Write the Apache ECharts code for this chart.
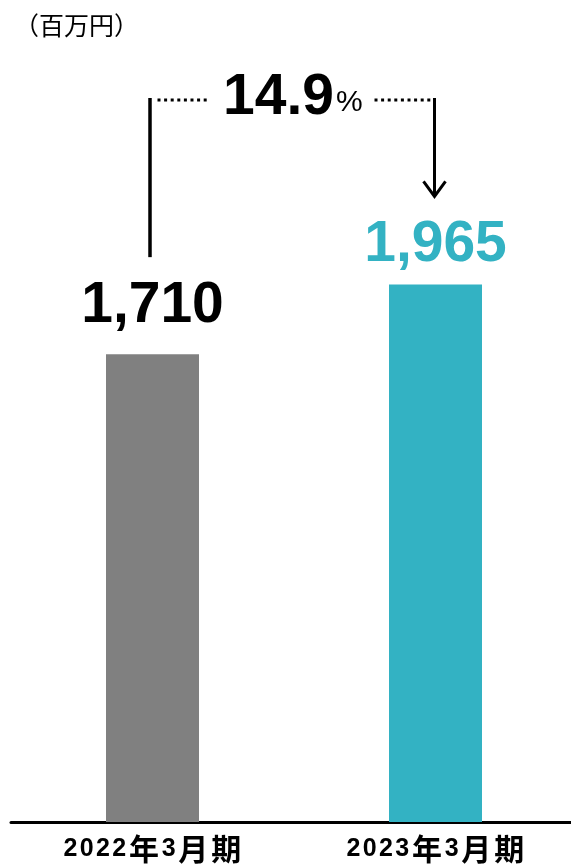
<!DOCTYPE html>
<html>
<head>
<meta charset="utf-8">
<script src="https://cdn.jsdelivr.net/npm/echarts@6/dist/echarts.min.js"></script>
<style>
html,body{margin:0;padding:0;background:#fff;}
#c{width:571px;height:864px;}
</style>
</head>
<body>
<div id="c"></div>
<script>
const categories = ['2022年3月期', '2023年3月期'];
const values = [1710, 1965];
const valueLabels = ['1,710', '1,965'];
const barColors = ['#808080', '#33b2c3'];
const labelColors = ['#000000', '#33b2c3'];
const labelDistances = [19, 11];
const growthText = '14.9';
const growthUnit = '%';
const unitText = '（百万円）';

const chart = echarts.init(document.getElementById('c'), null, {renderer: 'canvas'});

function catFormatter(v) {
  return v.split('').map(ch => /[0-9]/.test(ch) ? '{d|' + ch + '}' : '{c|' + ch + '}').join('');
}

chart.setOption({
  animation: false,
  backgroundColor: '#ffffff',
  title: {
    text: unitText,
    left: 14,
    top: 13,
    padding: 0,
    textStyle: {fontSize: 25, fontWeight: 'normal', color: '#000', fontFamily: 'Noto Sans CJK JP'}
  },
  grid: {left: 11, width: 566, top: 138, bottom: 42, containLabel: false, outerBoundsMode: 'none'},
  xAxis: {
    type: 'category',
    data: categories,
    axisLine: {show: true, lineStyle: {color: '#000', width: 3}},
    axisTick: {show: false},
    axisLabel: {
      margin: 12,
      formatter: catFormatter,
      rich: {
        d: {fontSize: 25, fontWeight: 'bold', fontFamily: 'Liberation Sans', color: '#000', padding: [0, 1.2]},
        c: {fontSize: 30, fontWeight: 'bold', fontFamily: 'Noto Sans CJK JP', color: '#000', padding: [0, 1.5]}
      }
    }
  },
  yAxis: {
    type: 'value', min: 0, max: 2500, show: false,
    splitLine: {show: false}
  },
  series: [{
    type: 'bar',
    barWidth: 93,
    data: values.map((v, i) => ({
      value: v,
      itemStyle: {color: barColors[i]},
      label: {
        show: true,
        position: 'top',
        distance: labelDistances[i],
        formatter: valueLabels[i],
        color: labelColors[i],
        fontSize: 57,
        fontWeight: 'bold',
        fontFamily: 'Liberation Sans',
        lineHeight: 57
      }
    }))
  }]
});

const p1 = chart.convertToPixel({seriesIndex: 0}, [0, values[0]]);
const p2 = chart.convertToPixel({seriesIndex: 0}, [1, values[1]]);
const mid = (p1[0] + p2[0]) / 2;
const bracketTop = 98;
const dotY = 100;
const lx = p1[0] - 2.5;
const rx = p2[0] - 1;
const lineStyle = {stroke: '#000', lineWidth: 3.5};
const dotStyle = {stroke: '#000', lineWidth: 3, lineDash: [3, 3.6]};

chart.setOption({
  graphic: [
    {type: 'line', shape: {x1: lx, y1: bracketTop, x2: lx, y2: p1[1] - 97}, style: lineStyle},
    {type: 'line', shape: {x1: lx + 7.5, y1: dotY, x2: mid - 85, y2: dotY}, style: dotStyle},
    {type: 'line', shape: {x1: mid + 80.5, y1: dotY, x2: rx - 3, y2: dotY}, style: dotStyle},
    {type: 'line', shape: {x1: rx, y1: bracketTop, x2: rx, y2: p2[1] - 88}, style: {stroke: '#000', lineWidth: 3}},
    {type: 'polyline', shape: {points: [[rx - 11, p2[1] - 103], [rx, p2[1] - 88], [rx + 11, p2[1] - 103]]}, style: {stroke: '#000', lineWidth: 3, fill: null}},
    {type: 'text', x: mid + 40, y: 98.5, style: {text: growthText, fill: '#000', font: 'bold 57px "Liberation Sans"', textAlign: 'right', textVerticalAlign: 'middle'}},
    {type: 'text', x: mid + 42, y: 103, style: {text: growthUnit, fill: '#000', font: 'normal 30px "Liberation Sans"', textAlign: 'left', textVerticalAlign: 'middle'}}
  ]
});
</script>
</body>
</html>
